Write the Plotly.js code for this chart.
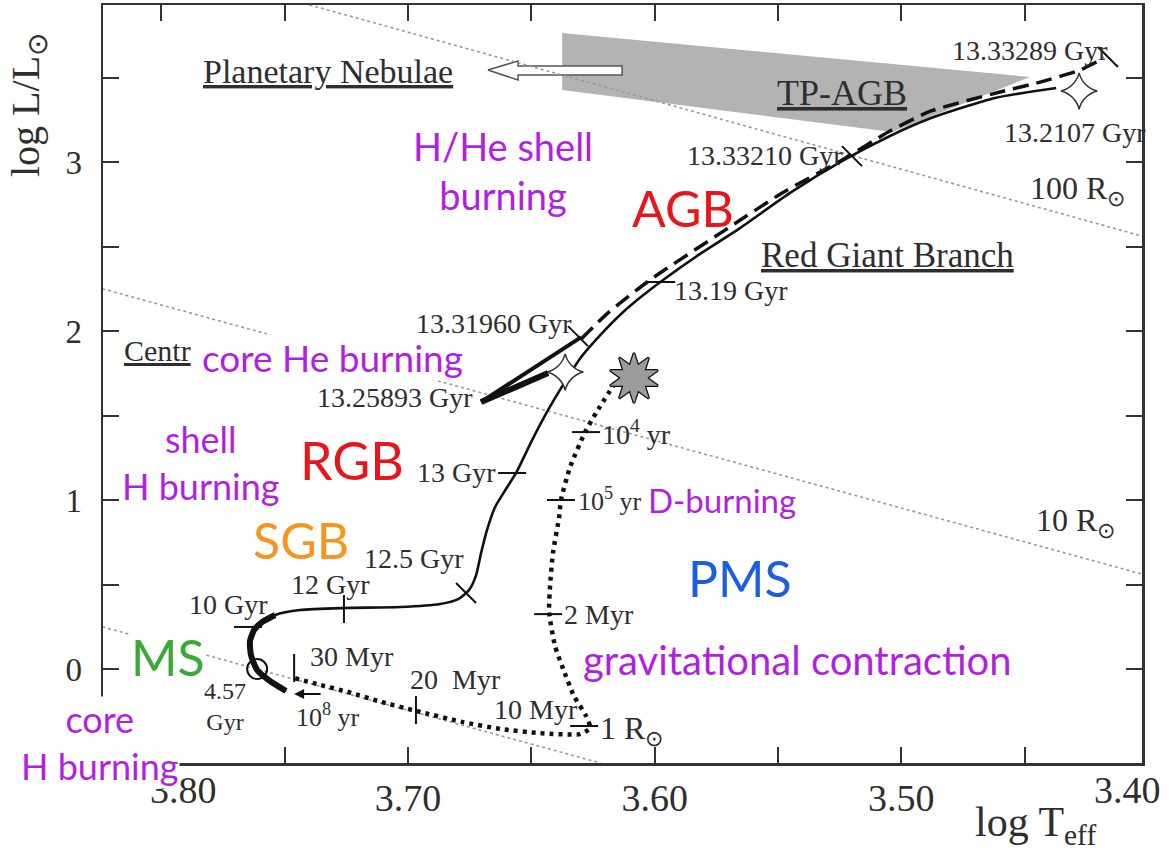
<!DOCTYPE html>
<html><head><meta charset="utf-8">
<script src="https://cdn.plot.ly/plotly-3.0.1.min.js"></script>
<style>html,body{margin:0;padding:0;background:#fff}</style>
</head><body><div id="chart" style="width:1174px;height:852px"></div>
<script>
// ---------- data (log Teff, log L/Lsun) ----------
const trackT = [3.7495,3.7560,3.7612,3.7637,3.7641,3.7624,3.7592,3.7539,3.7438,3.7260,3.7032,3.6870,3.6797,3.6753,3.6724,3.6704,3.6680,3.6647,3.6603,3.6562,3.6501,3.6432,3.6367,3.6298,3.6217,3.6132,3.6051,3.5966,3.5816,3.5654,3.5451,3.5232,3.5046,3.4879,3.4620,3.4372];
const trackL = [-0.130,-0.071,-0.006,0.083,0.166,0.231,0.278,0.320,0.349,0.361,0.367,0.385,0.414,0.467,0.556,0.686,0.822,0.959,1.065,1.160,1.343,1.533,1.692,1.846,1.982,2.107,2.207,2.302,2.456,2.609,2.817,3.012,3.154,3.260,3.379,3.438];
const msThickT = [3.7495,3.7560,3.7612,3.7637,3.7641,3.7624,3.7592,3.7539];
const msThickL = [-0.130,-0.071,-0.006,0.083,0.166,0.231,0.278,0.320];
const heUpperT = [3.6704,3.6298], heUpperL = [1.580,1.964];
const heLowerT = [3.6704,3.6432], heLowerL = [1.580,1.751];
const agbT = [3.6298,3.6189,3.6019,3.5702,3.5483,3.5240,3.5046,3.4879,3.4600,3.4437,3.4275,3.4178];
const agbL = [1.953,2.107,2.302,2.609,2.817,3.012,3.183,3.302,3.414,3.473,3.544,3.615];
const pmsT = [3.6161,3.6238,3.6282,3.6343,3.6380,3.6388,3.6412,3.6424,3.6428,3.6404,3.6371,3.6327,3.6278,3.6262,3.6303,3.6465,3.6623,3.6777,3.6964,3.7122,3.7243,3.7369,3.7462];
const pmsL = [1.692,1.515,1.402,1.195,1.000,0.893,0.692,0.497,0.337,0.136,0.000,-0.160,-0.278,-0.349,-0.385,-0.379,-0.355,-0.314,-0.249,-0.189,-0.136,-0.089,-0.053];
const tpagbT = [3.6375,3.4478,3.5037,3.6375], tpagbL = [3.763,3.503,3.178,3.426];
const pnArrowT = [3.6676,3.6554,3.6554,3.6132,3.6132,3.6554,3.6554,3.6676];
const pnArrowL = [3.544,3.598,3.568,3.568,3.515,3.515,3.485,3.544];
const rad1T = [3.824,3.622], rad1L = [0.25,-0.556];
const rad10T = [3.824,3.402], rad10L = [2.25,0.56];
const rad100T = [3.740,3.402], rad100L = [3.93,2.56];
const ageT = [3.7649,3.7260,3.6765,3.6578,3.5974,3.6311,3.5200,3.4162,3.6278,3.6380,3.6432,3.6286,3.6968,3.7462];
const ageL = [0.249,0.355,0.450,1.160,2.290,1.970,3.035,3.621,1.402,1.000,0.325,-0.337,-0.243,0.006];
const ageSym = ['line-ew','line-ns','line-nw','line-ew','line-ew','line-nw','line-nw','line-nw','line-ew','line-ew','line-ew','line-ew','line-ns','line-ns'];
const sunT = [3.7612], sunL = [0.000];
const starT = [3.6363,3.4279], starL = [1.757,3.420];
const flashT = [3.6084], flashL = [1.722];
const xTickVals = [3.70,3.60,3.50];
const xTickText = ['3.70','3.60','3.50'];
const xMinorVals = [3.80,3.75,3.65,3.55,3.45];
const yTickVals = [0,1,2,3];
const yTickText = ['0','1','2','3'];
const yMinorVals = [0.5,1.5,2.5,3.5];

// ---------- styling ----------
const SERIF = 'Liberation Serif, Times New Roman, serif';
const SANS = 'Lato, Open Sans, sans-serif';
const DARK = '#2e2e2e';
const PURPLE = '#b21fe3', RED = '#e8161b', ORANGE = '#f7941d', GREEN = '#3aa935', BLUE = '#1b5fe0';
const L = 103, R = 1142, T = 5, B = 763;
function px(x){return (x-L)/(R-L);} function py(y){return (B-y)/(B-T);}
function lab(text,x,y,size,o){o=o||{};return Object.assign({text:text,xref:'paper',yref:'paper',x:px(x),y:py(y),xanchor:'center',yanchor:'middle',showarrow:false,font:{family:SERIF,size:size,color:DARK}},o);}
function col(text,x,y,size,color,o){o=o||{};return Object.assign({text:text,xref:'paper',yref:'paper',x:px(x),y:py(y),xanchor:'center',yanchor:'middle',showarrow:false,bgcolor:'white',borderpad:0,font:{family:SANS,size:size,color:color}},o);}
const U = s => '<span style="text-decoration:underline">'+s+'</span>';

const none = {hoverinfo:'skip',showlegend:false};
const traces = [
  Object.assign({x:tpagbT,y:tpagbL,mode:'lines',fill:'toself',fillcolor:'#b3b3b3',line:{width:0}},none),
  Object.assign({x:pnArrowT,y:pnArrowL,mode:'lines',fill:'toself',fillcolor:'#ffffff',line:{color:'#555',width:1.5}},none),
  Object.assign({x:rad1T,y:rad1L,mode:'lines',line:{color:'#9a9a9a',width:1.6,dash:'3px,3px'}},none),
  Object.assign({x:rad10T,y:rad10L,mode:'lines',line:{color:'#9a9a9a',width:1.6,dash:'3px,3px'}},none),
  Object.assign({x:rad100T,y:rad100L,mode:'lines',line:{color:'#9a9a9a',width:1.6,dash:'3px,3px'}},none),
  Object.assign({x:pmsT,y:pmsL,mode:'lines',line:{color:'#111',width:4.5,dash:'4px,5px',shape:'spline',smoothing:0.6}},none),
  Object.assign({x:trackT,y:trackL,mode:'lines',line:{color:'#111',width:2.6,shape:'spline',smoothing:0.6}},none),
  Object.assign({x:msThickT,y:msThickL,mode:'lines',line:{color:'#111',width:6,shape:'spline',smoothing:0.6}},none),
  Object.assign({x:heUpperT,y:heUpperL,mode:'lines',line:{color:'#111',width:4}},none),
  Object.assign({x:heLowerT,y:heLowerL,mode:'lines',line:{color:'#111',width:6}},none),
  Object.assign({x:agbT,y:agbL,mode:'lines',line:{color:'#111',width:3.5,dash:'16px,8px',shape:'spline',smoothing:0.6}},none),
  Object.assign({x:ageT,y:ageL,mode:'markers',marker:{symbol:ageSym,size:20,color:'#111',line:{color:'#111',width:2}}},none),
  Object.assign({x:sunT,y:sunL,mode:'markers',marker:{symbol:'circle-open',size:20,color:'#111',line:{color:'#111',width:2}}},none),
  Object.assign({x:starT,y:starL,mode:'markers',marker:{symbol:'star-diamond',size:26,color:'#ffffff',line:{color:'#333',width:1.5}}},none),
  Object.assign({x:[flashT[0],flashT[0]],y:[flashL[0],flashL[0]],mode:'markers',marker:{symbol:'star',size:36,angle:[0,36],color:'#111',line:{color:'#111',width:2.5}}},none),
  Object.assign({x:[flashT[0],flashT[0]],y:[flashL[0],flashL[0]],mode:'markers',marker:{symbol:'star',size:36,angle:[0,36],color:'#9c9c9c',line:{width:0}}},none)
];

const annotations = [
  lab('3.80',183,790,38),
  lab('3.40',1127,790,38),
  col('H/He shell<br>burning',503,170,38,PURPLE,{bgcolor:'rgba(0,0,0,0)'}),
  col('AGB',683,208,50,RED,{bgcolor:'rgba(0,0,0,0)'}),
  col('core He burning',201,357,37,PURPLE,{xanchor:'left'}),
  col('shell<br>H burning',201,462,36,PURPLE),
  col('RGB',352,460,52,RED),
  col('SGB',301,540,50,ORANGE),
  col('MS',168,657,50,GREEN),
  col('core<br>H burning',100,742,36,PURPLE),
  col('D-burning',722,500,33,PURPLE),
  col('PMS',740,578,50,BLUE),
  col('gravitational contraction',797,660,40,PURPLE),
  lab(U('Planetary Nebulae'),328,72,34),
  lab(U('TP-AGB'),842,93,36),
  lab('13.33289 Gyr',1110,50,28,{xanchor:'right'}),
  lab('13.2107 Gyr',1075,132,28),
  lab('13.33210 Gyr',845,155,28,{xanchor:'right'}),
  lab('100 R<sub>⊙</sub>',1077,190,32),
  lab(U('Red Giant Branch'),887,255,35),
  lab('13.19 Gyr',672,290,28,{xanchor:'left'}),
  lab('13.31960 Gyr',574,323,28,{xanchor:'right'}),
  lab(U('Centr'),122,350,30,{xanchor:'left'}),
  lab('13.25893 Gyr',475,398,28,{xanchor:'right'}),
  lab('13 Gyr',498,472,28,{xanchor:'right'}),
  lab('10<sup>4</sup> yr',600,432,28,{xanchor:'left'}),
  lab('10<sup>5</sup> yr',576,500,26,{xanchor:'left'}),
  lab('12.5 Gyr',414,558,28),
  lab('12 Gyr',330,584,28),
  lab('10 Gyr',228,604,28),
  lab('30 Myr',352,656,28),
  lab('20  Myr',455,679,28),
  lab('10 Myr',536,709,28),
  lab('2 Myr',562,614,28,{xanchor:'left'}),
  lab('1 R<sub>⊙</sub>',598,730,32,{xanchor:'left'}),
  lab('4.57<br>Gyr',225,706,24),
  lab('10<sup>8</sup> yr',328,715,26),
  lab('10 R<sub>⊙</sub>',1075,522,32),
  lab('log L/L<sub>⊙</sub>',28,105,40,{textangle:-90}),
  lab('log T<sub>eff</sub>',1035,825,42),
  {x:3.7462,y:-0.148,xref:'x',yref:'y',ax:28,ay:0,showarrow:true,arrowhead:2,arrowsize:1,arrowwidth:2,arrowcolor:'#111',text:''}
];

const axisCommon = {showgrid:false,zeroline:false,showline:true,linecolor:'#333',linewidth:2.5,mirror:'ticks',ticks:'inside',ticklen:16,tickwidth:2,tickcolor:'#333',tickmode:'array'};
const layout = {
  width:1174,height:852,margin:{l:L,r:1174-R,t:T,b:852-B},
  paper_bgcolor:'#fff',plot_bgcolor:'#fff',showlegend:false,hovermode:false,
  xaxis:Object.assign({},axisCommon,{range:[3.8237,3.4024],tickvals:xTickVals,ticktext:xTickText,tickfont:{family:SERIF,size:38,color:DARK},ticklabelstandoff:0,
    minor:{tickmode:'array',tickvals:xMinorVals,ticks:'inside',ticklen:16,tickwidth:2,tickcolor:'#333',showgrid:false}}),
  yaxis:Object.assign({},axisCommon,{range:[-0.556,3.929],tickvals:yTickVals,ticktext:yTickText,tickfont:{family:SERIF,size:33,color:DARK},ticklabelstandoff:12,
    minor:{tickmode:'array',tickvals:yMinorVals,ticks:'inside',ticklen:16,tickwidth:2,tickcolor:'#333',showgrid:false}}),
  annotations:annotations
};
Plotly.newPlot('chart',traces,layout,{displayModeBar:false,staticPlot:true});
</script></body></html>
